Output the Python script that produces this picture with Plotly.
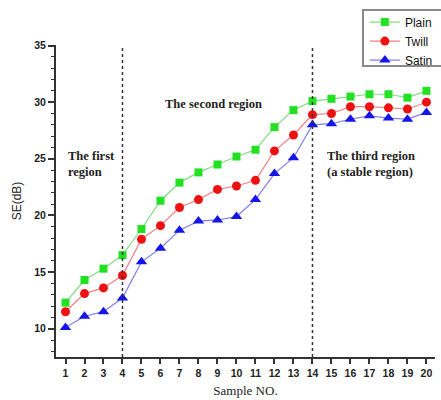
import plotly.graph_objects as go

samples = list(range(1, 21))
plain = [12.3, 14.3, 15.3, 16.5, 18.8, 21.3, 22.9, 23.8, 24.5, 25.2,
         25.8, 27.8, 29.3, 30.1, 30.3, 30.5, 30.7, 30.7, 30.4, 31.0]
twill = [11.5, 13.1, 13.6, 14.7, 17.9, 19.1, 20.7, 21.4, 22.3, 22.6,
         23.1, 25.7, 27.1, 28.9, 29.0, 29.6, 29.6, 29.5, 29.4, 30.0]
satin = [10.1, 11.1, 11.5, 12.7, 15.9, 17.1, 18.7, 19.5, 19.6, 19.9,
         21.4, 23.7, 25.1, 28.0, 28.1, 28.5, 28.8, 28.6, 28.5, 29.1]
region_bounds = [4, 14]
y_range = [7.5, 35.05]
x_range = [0.5, 20.45]

fig = go.Figure()
series = [
    ("Plain", plain, "square", "#22e022", "#80dd80", 8),
    ("Twill", twill, "circle", "#ee1111", "#ee8080", 9),
    ("Satin", satin, "triangle-up", "#1515e8", "#8080ee", 10),
]
for name, vals, sym, mc, lc, ms in series:
    fig.add_trace(go.Scatter(
        x=samples, y=vals, name=name, mode="lines+markers",
        line=dict(color=lc, width=1.2),
        marker=dict(symbol=sym, color=mc, size=ms, line=dict(width=0)),
    ))

for xb in region_bounds:
    fig.add_shape(type="line", xref="x", yref="y", x0=xb, x1=xb,
                  y0=y_range[0], y1=35,
                  line=dict(color="#333333", width=1.5, dash="dot"))

# legend frame (its right side runs past the figure edge, as in the reference)
fig.add_shape(type="rect", xref="paper", yref="paper",
              x0=0.810, x1=1.06, y0=0.933, y1=1.112,
              line=dict(color="#888888", width=2), fillcolor="rgba(0,0,0,0)")

serif = dict(family="Liberation Serif, Times New Roman, serif", size=12.5, color="#222222")
fig.add_annotation(x=1.0, y=24.5, xref="x", yref="y", xanchor="left", align="left",
                   text="<b>The first<br>region</b>", showarrow=False, font=serif)
fig.add_annotation(x=8.77, y=29.8, xref="x", yref="y", xanchor="center",
                   text="<b>The second region</b>", showarrow=False, font=serif)
fig.add_annotation(x=14.65, y=24.5, xref="x", yref="y", xanchor="left", align="left",
                   text="<b>The third region<br>(a stable region)</b>", showarrow=False, font=serif)

fig.update_layout(
    width=441, height=400,
    margin=dict(l=56, r=6, t=45, b=43, autoexpand=False),
    paper_bgcolor="white", plot_bgcolor="white",
    font=dict(family="Liberation Sans, Arial, sans-serif", color="#222222"),
    showlegend=True,
    legend=dict(x=0.815, y=1.12, xanchor="left", yanchor="top",
                borderwidth=0, bgcolor="rgba(0,0,0,0)",
                font=dict(size=12, color="#111111"),
                tracegroupgap=0),
)
fig.update_xaxes(
    range=x_range, tickmode="linear", tick0=1, dtick=1,
    showgrid=False, zeroline=False,
    showline=True, linecolor="#333333", linewidth=2,
    ticks="outside", ticklen=5, tickwidth=1.5, tickcolor="#333333",
    tickfont=dict(size=10.5, family="Liberation Sans, Arial, sans-serif", color="#222222", weight="bold"),
    title=dict(text="Sample NO.", standoff=8,
               font=dict(family="Liberation Serif, Times New Roman, serif", size=13, color="#222222")),
)
fig.update_yaxes(
    range=y_range, tickmode="linear", tick0=10, dtick=5,
    showgrid=False, zeroline=False,
    showline=True, linecolor="#333333", linewidth=2,
    ticks="outside", ticklen=6, tickwidth=1.5, tickcolor="#333333",
    minor=dict(dtick=1, tick0=0, ticks="outside", ticklen=3, tickwidth=1.2, tickcolor="#333333"),
    tickfont=dict(size=10.5, family="Liberation Sans, Arial, sans-serif", color="#222222", weight="bold"),
    title=dict(text="SE(dB)", standoff=10,
               font=dict(family="Liberation Sans, Arial, sans-serif", size=12, color="#222222")),
)

fig.write_html("out.html", config={"displayModeBar": False},
               post_script="document.body.style.margin='0';document.body.style.overflow='hidden';")
